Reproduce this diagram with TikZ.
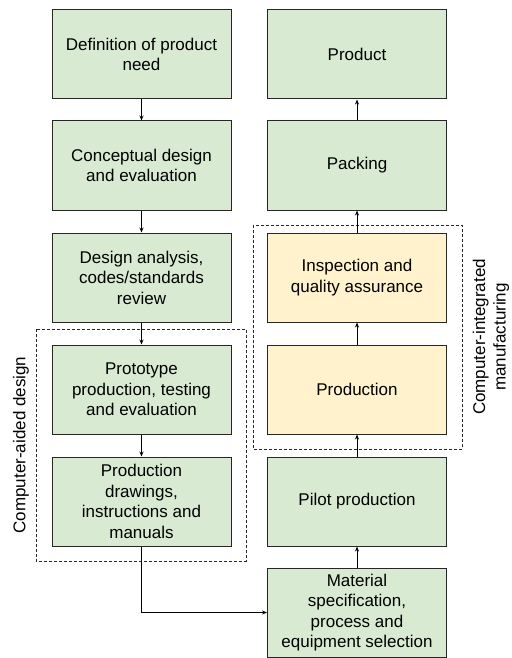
\documentclass[tikz,border=0pt]{standalone}
\usepackage{fontspec}
\setmainfont{Liberation Sans}
\usetikzlibrary{arrows.meta}
\definecolor{boxgreen}{HTML}{D9EAD3}
\definecolor{boxyellow}{HTML}{FFF2CC}
\definecolor{edge}{HTML}{262626}
\begin{document}
\begin{tikzpicture}[x=1pt,y=-1pt,
  stage/.style={draw=edge, line width=1pt, fill=boxgreen, minimum width=179pt, minimum height=89pt,
    align=center, inner sep=2pt, font=\fontsize{17}{20.5}\selectfont},
  cimstage/.style={stage, fill=boxyellow},
  flow/.style={draw=black, line width=0.8pt, -{Stealth[length=5pt,width=4pt]}},
  groupbox/.style={draw=edge, line width=0.8pt, dash pattern=on 3pt off 2pt},
  grouplabel/.style={rotate=90, align=center, font=\fontsize{17}{20.5}\selectfont}]
\useasboundingbox (0,0) rectangle (511,658);
% left column
\node[stage] (need) at (141.5,54.5) {Definition of product\\need};
\node[stage] (concept) at (141.5,165.5) {Conceptual design\\and evaluation};
\node[stage] (analysis) at (141.5,277.5) {Design analysis,\\codes/standards\\review};
\node[stage] (proto) at (141.5,389.5) {Prototype\\production, testing\\and evaluation};
\node[stage] (drawings) at (141.5,501.5) {Production\\drawings,\\instructions and\\manuals};
% right column
\node[stage] (product) at (357,54.5) {Product};
\node[stage] (packing) at (357,165.5) {Packing};
\node[cimstage] (inspect) at (357,277.5) {Inspection and\\quality assurance};
\node[cimstage] (production) at (357,389.5) {Production};
\node[stage] (pilot) at (357,501.5) {Pilot production};
\node[stage] (material) at (357,612.5) {Material\\specification,\\process and\\equipment selection};
% groups
\draw[groupbox] (36,329) rectangle (246,561);
\draw[groupbox] (253,225) rectangle (462,449);
\node[grouplabel] (cad) at (21,445) {Computer-aided design};
\node[grouplabel] (cim) at (491,337) {Computer-integrated\\manufacturing};
% connectors
\draw[flow] (need) -- (concept);
\draw[flow] (concept) -- (analysis);
\draw[flow] (analysis) -- (proto);
\draw[flow] (proto) -- (drawings);
\draw[flow] (drawings.south) |- (material.west);
\draw[flow] (material) -- (pilot);
\draw[flow] (pilot) -- (production);
\draw[flow] (production) -- (inspect);
\draw[flow] (inspect) -- (packing);
\draw[flow] (packing) -- (product);
\end{tikzpicture}
\end{document}
